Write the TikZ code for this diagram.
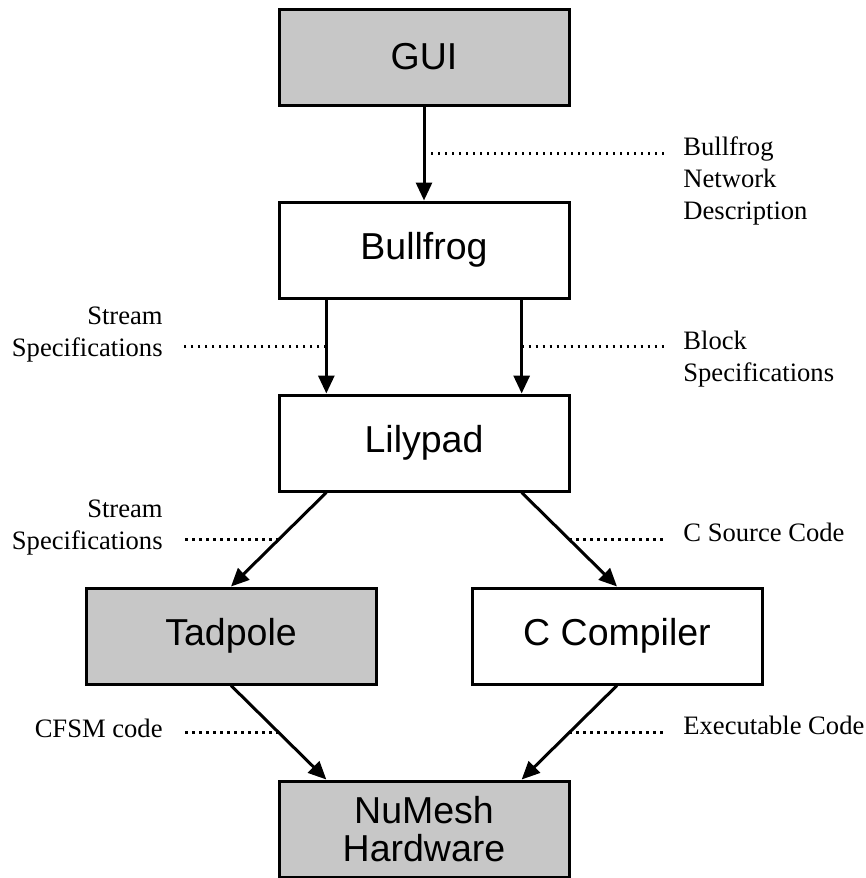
\documentclass[tikz,border=0pt]{standalone}
\usepackage{fontspec}
\setmainfont{Liberation Serif}
\newfontfamily\boxfont{Liberation Sans}
\usetikzlibrary{arrows.meta,calc}

\tikzset{
  block/.style={draw, line width=1.5pt, minimum width=145pt, minimum height=48pt,
    inner sep=0pt, align=center, font=\boxfont\fontsize{18.75}{19}\selectfont},
  shaded/.style={block, fill=black!22},
  flow/.style={line width=1.5pt, -{Triangle[length=9pt,width=8pt]}},
  note/.style={line width=1.1pt, dash pattern=on 1.1pt off 2.4pt},
  lbl/.style={inner sep=0pt, font=\fontsize{13.3}{16}\selectfont},
}

\begin{document}
\begin{tikzpicture}[x=0.5pt,y=-0.5pt]
   \useasboundingbox (0,0) rectangle (866,878);

   % boxes
   \node[shaded] (gui) at (424,57) {GUI};
   \node[block] (bull) at (424,250) {Bullfrog};
   \node[block] (lily) at (424,443) {Lilypad};
   \node[shaded] (tad) at (231,636) {Tadpole};
   \node[block] (cc) at (617,636) {C Compiler};
   \node[shaded] (nu) at (424,829) {NuMesh\\Hardware};

   % ends of the side arrows
   \coordinate (bull1) at ($(bull.south west)!1/6!(bull.south east)$);
   \coordinate (bull5) at ($(bull.south west)!5/6!(bull.south east)$);
   \coordinate (lilyn1) at ($(lily.north west)!1/6!(lily.north east)$);
   \coordinate (lilyn5) at ($(lily.north west)!5/6!(lily.north east)$);
   \coordinate (lilys1) at ($(lily.south west)!1/6!(lily.south east)$);
   \coordinate (lilys5) at ($(lily.south west)!5/6!(lily.south east)$);
   \coordinate (nu1) at ($(nu.north west)!1/6!(nu.north east)$);
   \coordinate (nu5) at ($(nu.north west)!5/6!(nu.north east)$);

   % arrows
   \draw[flow] (gui) -- (bull) coordinate[midway] (m1);
   \draw[flow] (bull1) -- (lilyn1) coordinate[midway] (m2);
   \draw[flow] (bull5) -- (lilyn5) coordinate[midway] (m3);
   \draw[flow] (lilys1) -- (tad.north) coordinate[midway] (m4);
   \draw[flow] (lilys5) -- (cc.north) coordinate[midway] (m5);
   \draw[flow] (tad.south) -- (nu1) coordinate[midway] (m6);
   \draw[flow] (cc.south) -- (nu5) coordinate[midway] (m7);

   % dotted leaders and their texts
   \coordinate (lx) at (183,0);
   \coordinate (rx) at (665,0);
   \coordinate (ltx) at (163,0);
   \coordinate (rtx) at (683,0);

   \draw[note] (m1) -- (m1 -| rx);
   \node[lbl, align=left, anchor=north west, yshift=8.5pt] (net) at (m1 -| rtx) {Bullfrog\\Network\\Description};

   \draw[note] (m2) -- (m2 -| lx);
   \node[lbl, align=right, anchor=south east, yshift=-8pt] (strm1) at (m2 -| ltx) {Stream\\Specifications};

   \draw[note] (m3) -- (m3 -| rx);
   \node[lbl, align=left, anchor=north west, yshift=8pt] (blk) at (m3 -| rtx) {Block\\Specifications};

   \draw[note] (m4) -- (m4 -| lx);
   \node[lbl, align=right, anchor=south east, yshift=-8pt] (strm2) at (m4 -| ltx) {Stream\\Specifications};

   \draw[note] (m5) -- (m5 -| rx);
   \node[lbl, anchor=base west, yshift=-1pt] (csrc) at (m5 -| rtx) {C Source Code};

   \draw[note] (m6) -- (m6 -| lx);
   \node[lbl, anchor=base east, yshift=-2.5pt] (cfsm) at (m6 -| ltx) {CFSM code};

   \draw[note] (m7) -- (m7 -| rx);
   \node[lbl, anchor=base west, yshift=-1pt] (exe) at (m7 -| rtx) {Executable Code};
\end{tikzpicture}
\end{document}
